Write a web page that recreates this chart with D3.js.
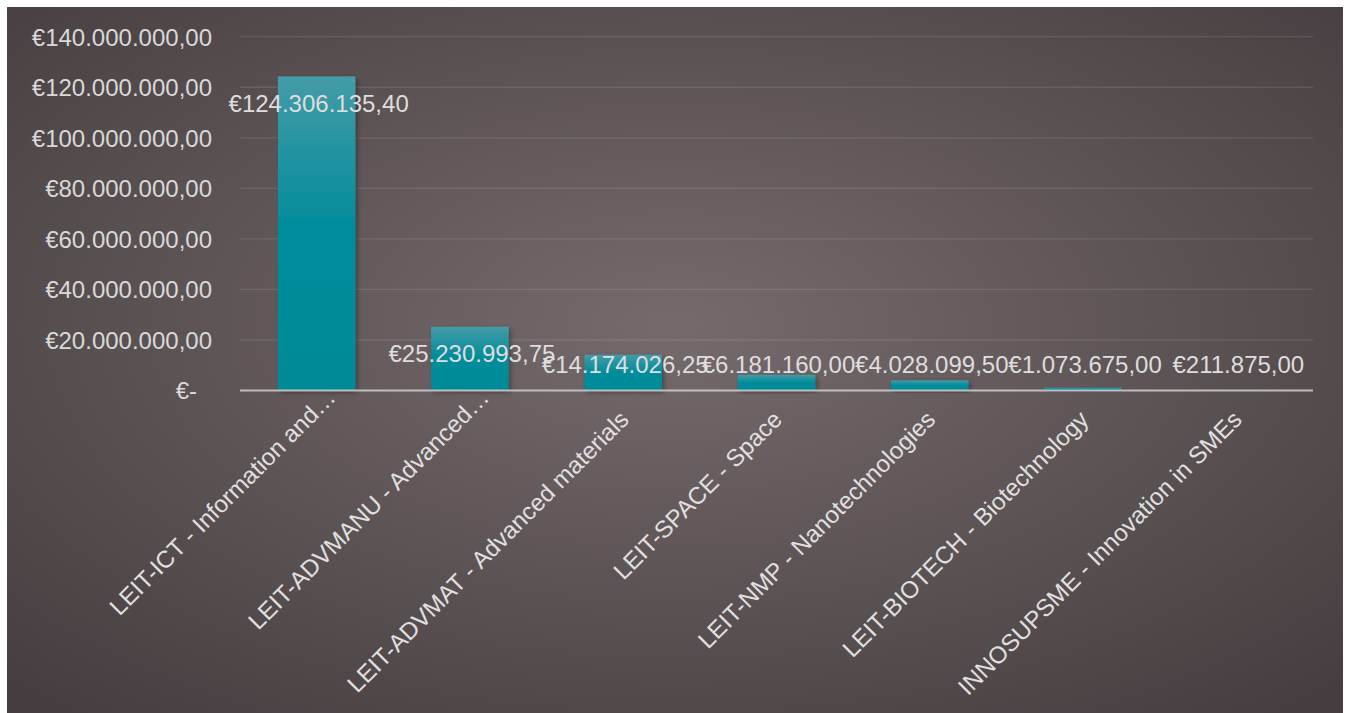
<!DOCTYPE html>
<html>
<head>
<meta charset="utf-8">
<script src="https://cdn.jsdelivr.net/npm/d3@7"></script>
<style>
  html, body { margin: 0; padding: 0; background: #ffffff; }
  svg { display: block; }
  text { font-family: "Liberation Sans", Arial, sans-serif; }
</style>
</head>
<body>
<svg id="chart" width="1347" height="713"></svg>
<script>
// ---- data ----
const categories = [
  "LEIT-ICT - Information and…",
  "LEIT-ADVMANU - Advanced…",
  "LEIT-ADVMAT - Advanced materials",
  "LEIT-SPACE - Space",
  "LEIT-NMP - Nanotechnologies",
  "LEIT-BIOTECH - Biotechnology",
  "INNOSUPSME - Innovation in SMEs"
];
const values = [124306135.40, 25230993.75, 14174026.25, 6181160.00, 4028099.50, 1073675.00, 211875.00];
const yTicks = [0, 20000000, 40000000, 60000000, 80000000, 100000000, 120000000, 140000000];

// ---- setup ----
const W = 1347, H = 713;
const svg = d3.select("#chart");
const defs = svg.append("defs");

const bg = defs.append("radialGradient").attr("id", "bgGrad")
  .attr("cx", 0.5).attr("cy", 0.45).attr("r", 0.72).attr("fx", 0.5).attr("fy", 0.45);
bg.append("stop").attr("offset", 0).attr("stop-color", "#766b6c");
bg.append("stop").attr("offset", 1).attr("stop-color", "#453d3f");

const barGrad = defs.append("linearGradient").attr("id", "barGrad")
  .attr("x1", 0).attr("y1", 0).attr("x2", 0).attr("y2", 1);
barGrad.append("stop").attr("offset", 0).attr("stop-color", "#449ca8");
barGrad.append("stop").attr("offset", 0.45).attr("stop-color", "#068d9b");
barGrad.append("stop").attr("offset", 1).attr("stop-color", "#008a98");

const shadow = defs.append("filter").attr("id", "shadow")
  .attr("x", "-20%").attr("y", "-20%").attr("width", "140%").attr("height", "140%");
shadow.append("feDropShadow").attr("dx", 2).attr("dy", 2).attr("stdDeviation", 2.5)
  .attr("flood-color", "#000").attr("flood-opacity", 0.35);

svg.append("rect").attr("x", 7).attr("y", 7).attr("width", 1336).attr("height", H - 7)
  .attr("fill", "url(#bgGrad)");

const x = d3.scaleBand().domain(categories).range([240, 1313])
  .paddingInner(0.494).paddingOuter(0.247);
const y = d3.scaleLinear().domain([0, 140000000]).range([390.5, 36.7]);

const loc = d3.formatLocale({decimal: ",", thousands: ".", grouping: [3], currency: ["€", ""]});
const money = loc.format("$,.2f");
const tickFmt = v => v === 0 ? "€-" : money(v);

// gridlines
svg.append("g").selectAll("line").data(yTicks.filter(d => d !== 0)).join("line")
  .attr("x1", 240).attr("x2", 1313)
  .attr("y1", d => y(d)).attr("y2", d => y(d))
  .attr("stroke", "rgba(255,255,255,0.1)").attr("stroke-width", 1.3);

// y axis labels
const yAxis = svg.append("g").attr("transform", "translate(212,0)")
  .call(d3.axisLeft(y).tickValues(yTicks).tickFormat(tickFmt).tickSize(0).tickPadding(0));
yAxis.select(".domain").remove();
yAxis.selectAll("text")
  .attr("fill", "#d9d9d9").attr("font-size", 24)
  .attr("font-family", "'Liberation Sans', Arial, sans-serif")
  .attr("dy", "0.35em")
  .attr("dx", d => d === 0 ? -15 : 0);

// bars
svg.append("g").selectAll("rect").data(values).join("rect")
  .attr("x", (d, i) => x(categories[i]))
  .attr("width", x.bandwidth())
  .attr("y", d => y(d))
  .attr("height", d => y(0) - y(d))
  .attr("fill", "url(#barGrad)")
  .attr("filter", "url(#shadow)");

// axis baseline
svg.append("line").attr("x1", 240).attr("x2", 1313).attr("y1", y(0)).attr("y2", y(0))
  .attr("stroke", "#d4cfcf").attr("stroke-opacity", 0.85).attr("stroke-width", 2);

// value labels
svg.append("g").selectAll("text").data(values).join("text")
  .attr("x", (d, i) => x(categories[i]) + x.bandwidth() / 2 + 2)
  .attr("y", d => Math.min(y(d) + 35.5, y(0) - 17.5))
  .attr("text-anchor", "middle")
  .attr("fill", "#dedede").attr("font-size", 24)
  .text(d => money(d));

// category labels (rotated -45)
svg.append("g").selectAll("text").data(categories).join("text")
  .attr("transform", d => {
    const cx = x(d) + x.bandwidth() / 2;
    return `translate(${cx + 7},${421}) rotate(-45)`;
  })
  .attr("x", d => d.endsWith("…") ? 25 : 0)
  .attr("y", d => d.endsWith("…") ? -6 : 0)
  .attr("text-anchor", "end")
  .attr("fill", "#e0e0e0").attr("font-size", 24)
  .text(d => d);
</script>
</body>
</html>
